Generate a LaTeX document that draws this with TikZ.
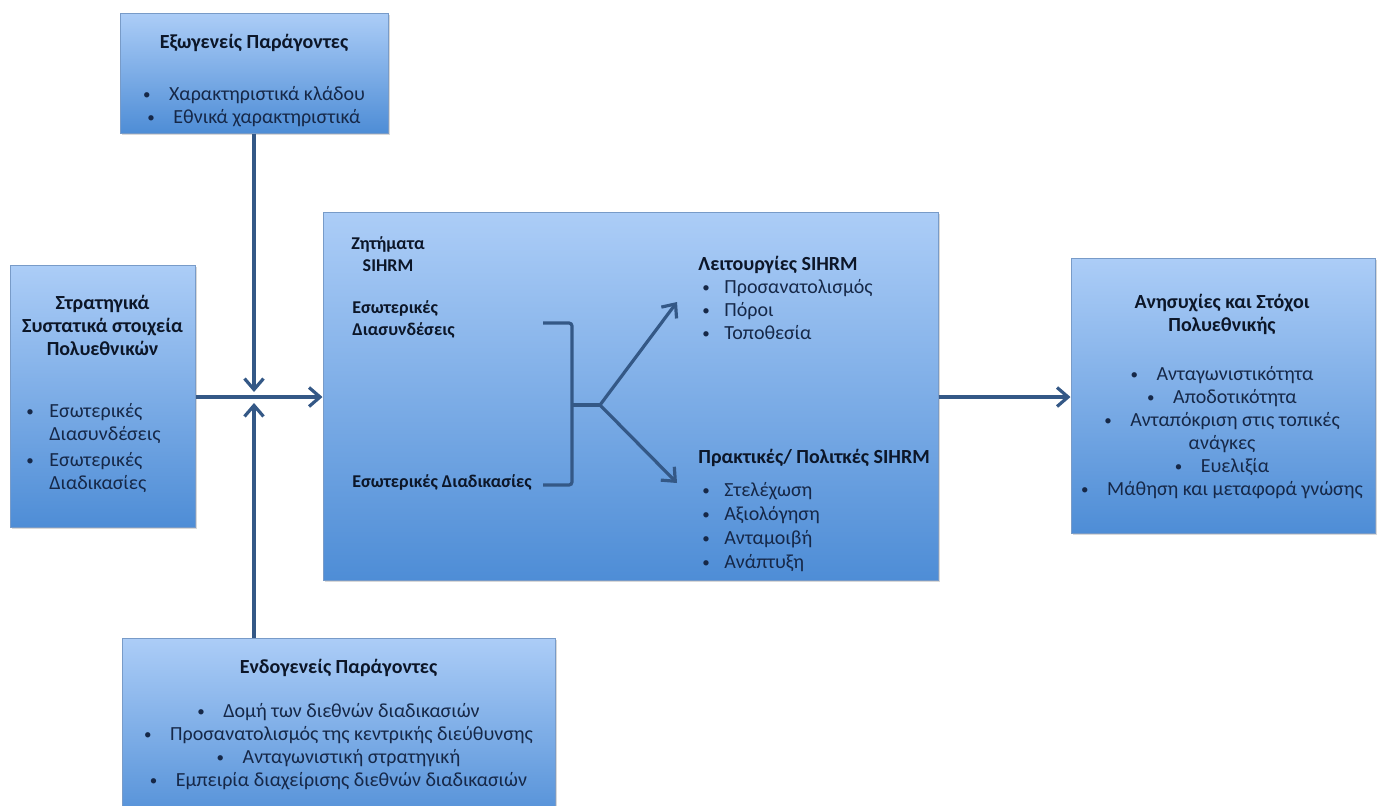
\documentclass[tikz,border=0pt]{standalone}
\usepackage{fontspec}
\usepackage{graphicx}
\setmainfont{Carlito}
\usetikzlibrary{arrows.meta,shadows}

\definecolor{boxtop}{RGB}{172,205,247}
\definecolor{boxbot}{RGB}{78,141,214}
\definecolor{boxedge}{RGB}{120,155,200}
\definecolor{ink}{RGB}{22,40,72}
\definecolor{inkhead}{RGB}{12,22,40}
\definecolor{linkc}{RGB}{52,88,134}

% small bullet dot; centred item, hanging-indent item, list item
\newcommand\bdot{\raisebox{0.5pt}{\scalebox{0.75}{\textbullet}}}
\newcommand\bul{\makebox[13pt][l]{\bdot}}
\newcommand\hb[1]{\makebox[11.5pt][l]{\bdot}#1}
\newcommand\hi[1]{\hspace*{11.5pt}#1}
\newcommand\cb[1]{\hspace*{2pt}\makebox[11pt][l]{\bdot}#1}

\tikzset{
  box/.style={draw=boxedge, line width=0.5pt, top color=boxtop, bottom color=boxbot,
    drop shadow={shadow xshift=1.2pt, shadow yshift=-1.2pt, opacity=0.3}, inner sep=0pt},
  txt/.style={text=ink, inner sep=0pt, align=center, font=\fontsize{10}{11.5}\selectfont},
  head/.style={txt, text=inkhead, font=\fontsize{10}{11.5}\selectfont\bfseries},
  small/.style={font=\fontsize{9}{11}\selectfont\bfseries},
  list/.style={txt, align=left, anchor=west},
  headl/.style={head, align=left, anchor=west},
  link/.style={draw=linkc, line width=1.6pt, -{Straight Barb[length=5.5pt,width=9.5pt]}},
  brace/.style={draw=linkc, line width=1.6pt, rounded corners=1.5pt}
}

\begin{document}
\begin{tikzpicture}[x=0.5pt,y=-0.5pt]
\useasboundingbox (0,0) rectangle (1382,805);
\clip (0,0) rectangle (1382,805);
\fill[white] (0,0) rectangle (1382,805);

% exogenous factors
\node[box, minimum width=134pt, minimum height=60pt] (ext) at (254,73) {};
\node[head] (extT) at (254,43) {Εξωγενείς Παράγοντες};
\node[txt] (extL) at (254,107) {\bul Χαρακτηριστικά κλάδου\\\bul Εθνικά χαρακτηριστικά};

% strategic components
\node[box, minimum width=92.5pt, minimum height=131pt] (strat) at (102.5,396) {};
\node[head] (stratT) at (102.5,325) {Στρατηγικά\\Συστατικά στοιχεία\\Πολυεθνικών};
\node[list] (stratL) at (26,448) {\hb{Εσωτερικές}\\\hi{Διασυνδέσεις}\\[1.5pt]\hb{Εσωτερικές}\\\hi{Διαδικασίες}};

% SIHRM issues
\node[box, minimum width=307.5pt, minimum height=184pt] (core) at (630.5,396) {};
\node[head, small] (coreT) at (388,254) {Ζητήματα\\SIHRM};
\node[headl, small] (coreA) at (352,319) {Εσωτερικές\\Διασυνδέσεις};
\node[headl, small] (coreB) at (352,482) {Εσωτερικές Διαδικασίες};
\node[headl] (funT) at (698,265) {Λειτουργίες SIHRM};
\node[list] (funL) at (698,310) {\cb{Προσανατολισμός}\\\cb{Πόροι}\\\cb{Τοποθεσία}};
\node[headl] (pracT) at (698,458) {Πρακτικές/ Πολιτκές SIHRM};
\node[list] (pracL) at (698,527) {\cb{Στελέχωση}\\[0.5pt]\cb{Αξιολόγηση}\\[0.5pt]\cb{Ανταμοιβή}\\[0.5pt]\cb{Ανάπτυξη}};

% bracket joining the two linkage types, then the fork
\coordinate (brA) at (543,323);
\coordinate (brB) at (543,485);
\coordinate (brM) at (572,405);
\coordinate (fork) at (600,405);
\coordinate (funIn) at (677,302);
\coordinate (pracIn) at (677,483);
\draw[brace] (brA) -- (brA -| brM) -- (brB -| brM) -- (brB);
\draw[brace] (brM) -- (fork);
\draw[link] (fork) -- (funIn);
\draw[link] (fork) -- (pracIn);

% MNE concerns and goals
\node[box, minimum width=152pt, minimum height=137.5pt] (goals) at (1223,395.5) {};
\node[head] (goalsT) at (1222,314) {Ανησυχίες και Στόχοι\\Πολυεθνικής};
\node[txt] (goalsL) at (1222,433) {\bul Ανταγωνιστικότητα\\\bul Αποδοτικότητα\\\bul Ανταπόκριση στις τοπικές\\ανάγκες\\\bul Ευελιξία\\\bul Μάθηση και μεταφορά γνώσης};

% endogenous factors
\node[box, minimum width=216.5pt, minimum height=96pt] (endo) at (338.5,734) {};
\node[head] (endoT) at (338.5,668) {Ενδογενείς Παράγοντες};
\node[txt] (endoL) at (338.5,746.5) {\bul Δομή των διεθνών διαδικασιών\\\bul Προσανατολισμός της κεντρικής διεύθυνσης\\\bul Ανταγωνιστική στρατηγική\\\bul Εμπειρία διαχείρισης διεθνών διαδικασιών};

% connectors
\coordinate (hub) at (254,397);
\draw[link, shorten >=2.5pt] (ext.south) -- (hub);
\draw[link, shorten >=3pt] (hub |- endo.north) -- (hub);
\draw[link] (strat.east |- hub) -- (core.west |- hub);
\draw[link] (core.east |- hub) -- (goals.west |- hub);
\end{tikzpicture}
\end{document}
